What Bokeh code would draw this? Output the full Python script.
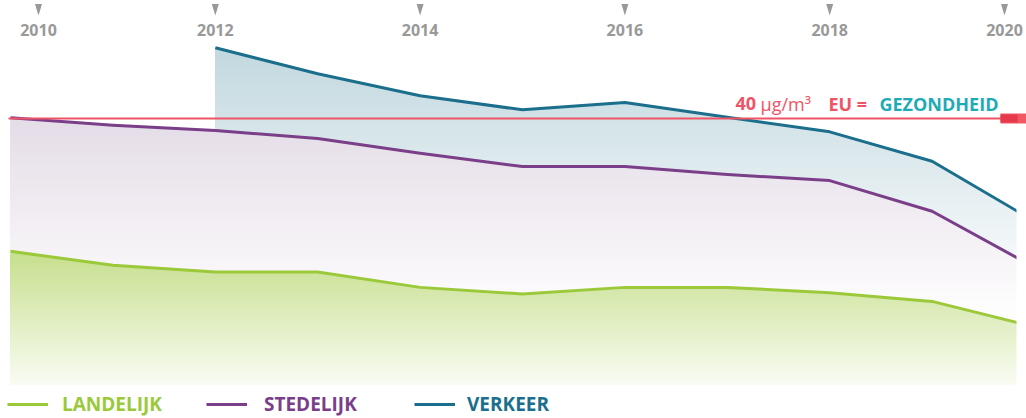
import numpy as np
from bokeh.plotting import figure
from bokeh.models import Range1d, Legend, LegendItem
from bokeh.core.properties import value
from bokeh.embed import file_html
from bokeh.resources import INLINE

# ---------------- data ----------------
years = [2010, 2011, 2012, 2013, 2014, 2015, 2016, 2017, 2018, 2019, 2020]
landelijk = [20.1, 18.0, 17.0, 17.0, 14.7, 13.7, 14.7, 14.7, 13.9, 12.6, 8.8]
stedelijk = [40.1, 39.0, 38.2, 37.0, 34.8, 32.8, 32.8, 31.6, 30.7, 26.1, 17.7]
verkeer_years = [2012, 2013, 2014, 2015, 2016, 2017, 2018, 2019, 2020]
verkeer = [50.6, 46.7, 43.4, 41.3, 42.4, 40.2, 38.0, 33.6, 24.6]
tick_years = [2010, 2012, 2014, 2016, 2018, 2020]
tick_labels = ["2010", "2012", "2014", "2016", "2018", "2020"]
eu_limit = 40
series_names = ["LANDELIJK", "STEDELIJK", "VERKEER"]

# ---------------- layout / style ----------------
W, H = 1026, 418
X0_PX, PX_PER_YEAR = 10, 102.4
Y0_PX, PX_PER_UNIT = 385, 6.675
FONT = "Open Sans"
GREEN = "#9bc93a"
PURPLE = "#7a3f88"
TEAL = "#1b6f8c"
RED = "#ef5466"
CYAN = "#1eabb6"
GRAY = "#999999"

x_start = 2010 - X0_PX / PX_PER_YEAR
x_end = x_start + W / PX_PER_YEAR
y_end = Y0_PX / PX_PER_UNIT
y_start = -(H - Y0_PX) / PX_PER_UNIT


def xv(px):
    return x_start + px / PX_PER_YEAR


def yv(py):
    return (Y0_PX - py) / PX_PER_UNIT


def ypx(v):
    return Y0_PX - v * PX_PER_UNIT


def min_poly(xs, ys, t):
    ox, oy = [xs[0]], [min(ys[0], t)]
    for i in range(len(xs) - 1):
        x0, y0, x1, y1 = xs[i], ys[i], xs[i + 1], ys[i + 1]
        if (y0 - t) * (y1 - t) < 0:
            ox.append(x0 + (t - y0) * (x1 - x0) / (y1 - y0))
            oy.append(t)
        ox.append(x1)
        oy.append(min(y1, t))
    return ox, oy


def grad(c_top, y_top, y_white, py):
    f = min(max((py - y_top) / (y_white - y_top), 0.0), 1.0)
    return "#%02x%02x%02x" % tuple(int(round(c + (255 - c) * f)) for c in c_top)


def layers(xs, ys, c_top, y_white_px, step_px=2.0):
    top_v = max(ys)
    top_px = ypx(top_v)
    px_list, py_list, cols = [], [], []
    t = top_v
    while True:
        ox, oy = min_poly(xs, ys, t)
        px_list.append(ox + [ox[-1], ox[0]])
        py_list.append(oy + [0, 0])
        cols.append(grad(c_top, top_px, y_white_px, ypx(t) + step_px / 2))
        if ypx(t) >= y_white_px:
            break
        t -= step_px / PX_PER_UNIT
    return px_list, py_list, cols


p = figure(width=W, height=H, x_range=Range1d(x_start, x_end),
           y_range=Range1d(y_start, y_end), output_backend="svg",
           toolbar_location=None, min_border=0, x_axis_location=None,
           y_axis_location=None, outline_line_color=None,
           background_fill_color="white", border_fill_color="white")
p.grid.visible = False

# gradient fills (back to front)
for xs, ys, ctop, ywhite in [
    (verkeer_years, verkeer, (193, 216, 223), 300),
    (years, stedelijk, (228, 220, 231), 320),
    (years, landelijk, (198, 223, 140), 400),
]:
    lx, ly, lc = layers(xs, ys, ctop, ywhite)
    p.patches(xs=lx, ys=ly, fill_color=lc, line_color=None)

r_l = p.line(years, landelijk, line_color=GREEN, line_width=3, line_join="round")
r_s = p.line(years, stedelijk, line_color=PURPLE, line_width=3, line_join="round")
r_v = p.line(verkeer_years, verkeer, line_color=TEAL, line_width=3, line_join="round")

# right edge clip of the data area
p.quad(left=xv(1016), right=x_end, bottom=y_start, top=y_end,
       fill_color="white", line_color=None)

# EU limit line + marker
p.segment(x0=xv(8), y0=eu_limit, x1=x_end, y1=eu_limit, line_color=RED, line_width=2)
p.quad(left=xv(1000), right=x_end, bottom=eu_limit - 5 / PX_PER_UNIT,
       top=eu_limit + 5 / PX_PER_UNIT, fill_color="#f05866", line_color=None)
p.quad(left=xv(1000), right=xv(1017), bottom=eu_limit - 4 / PX_PER_UNIT,
       top=eu_limit + 4 / PX_PER_UNIT, fill_color="#e6394b", line_color=None)

# EU label
base = yv(103)
for txt, px, style, col in [("40", 735, "bold", RED), ("µg/m³", 760, "normal", RED),
                            ("EU =", 828, "bold", RED), ("GEZONDHEID", 879, "bold", CYAN)]:
    p.text(x=[xv(px)], y=[base], text=[txt], text_font=value(FONT),
           text_font_size="18px", text_font_style=style, text_color=col,
           text_align="left", text_baseline="alphabetic")

# top tick labels and markers
shift_px = [28, 0, 0, 0, 0, -30]
tick_x = [ty + s / PX_PER_YEAR for ty, s in zip(tick_years, shift_px)]
p.text(x=tick_x, y=[yv(29.5)] * len(tick_x), text=tick_labels, text_font=value(FONT),
       text_font_size="16px", text_font_style="bold", text_color=GRAY,
       text_align="center", text_baseline="alphabetic")
tri_x = [[tx - 3.5 / PX_PER_YEAR, tx + 3.5 / PX_PER_YEAR, tx] for tx in tick_x]
tri_y = [[yv(3.5), yv(3.5), yv(15)] for _ in tick_x]
p.patches(xs=tri_x, ys=tri_y, fill_color="#999999", line_color=None)

# legends
for name, r, col, loc, standoff in [(series_names[0], r_l, GREEN, (7, 1), 14),
                                    (series_names[1], r_s, PURPLE, (206, 1), 17),
                                    (series_names[2], r_v, TEAL, (414, 1), 12)]:
    lg = Legend(items=[LegendItem(label=name, renderers=[r])], location=loc,
                orientation="horizontal", glyph_width=41, glyph_height=26,
                label_standoff=standoff, label_height=26, padding=0, margin=0,
                spacing=0, background_fill_alpha=0, border_line_color=None,
                label_text_color=col, label_text_font=FONT,
                label_text_font_size="19px", label_text_font_style="bold")
    p.add_layout(lg)

open("out.html", "w").write(file_html(p, INLINE))
